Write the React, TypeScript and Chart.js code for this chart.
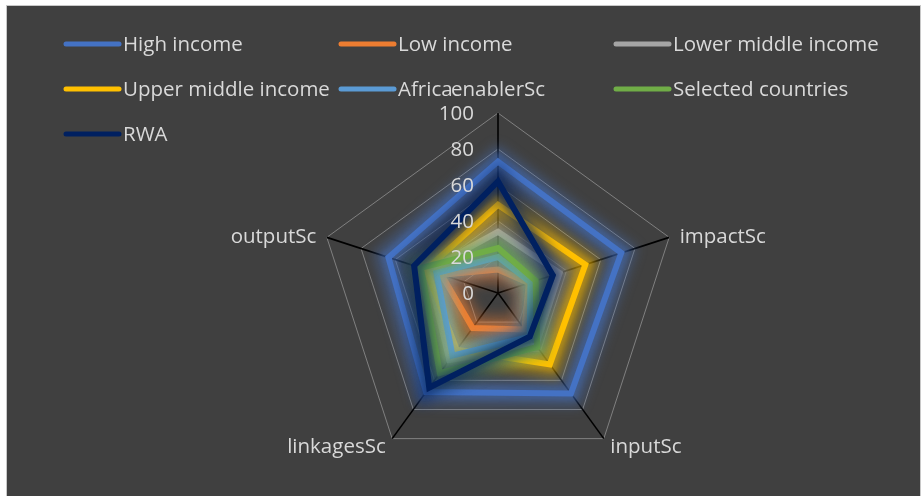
import { useEffect, useRef } from 'react';
import { Chart, registerables } from 'chart.js';

Chart.register(...registerables);

// Axes of the radar, clockwise from the top
const axisLabels = ['enablerSc', 'impactSc', 'inputSc', 'linkagesSc', 'outputSc'];

// Scores per group, in axis order
const highIncome = [73, 72, 69, 68, 64];
const lowIncome = [13, 18, 25, 24, 33];
const lowerMiddleIncome = [34, 36, 36, 46, 41];
const upperMiddleIncome = [49, 51, 49, 39, 42];
const africa = [20, 19, 30, 43, 36];
const selectedCountries = [25, 22, 37, 55, 45];
const rwa = [62, 32, 30, 65, 49];

const seriesNames = [
  'High income',
  'Low income',
  'Lower middle income',
  'Upper middle income',
  'Africa',
  'Selected countries',
  'RWA',
];
const seriesValues = [highIncome, lowIncome, lowerMiddleIncome, upperMiddleIncome, africa, selectedCountries, rwa];
const seriesColors = ['#4472C4', '#ED7D31', '#A5A5A5', '#FFC000', '#5B9BD5', '#70AD47', '#002060'];

// Radial axis range
const axisMin = 0;
const axisMax = 100;
const axisStep = 20;

const FONT = "'Open Sans', sans-serif";
const FONT_SIZE = 20.5;
const TEXT_COLOR = '#d9d9d9';

function hexToRgba(hex: string, a: number) {
  const n = parseInt(hex.slice(1), 16);
  return `rgba(${(n >> 16) & 255}, ${(n >> 8) & 255}, ${n & 255}, ${a})`;
}

// Soft halo under every series line
const glowPlugin = {
  id: 'seriesGlow',
  beforeDatasetDraw(chart: any, args: any) {
    const meta = chart.getDatasetMeta(args.index);
    const pts = meta.data;
    if (!pts || !pts.length) return;
    const color = chart.data.datasets[args.index].borderColor as string;
    const ctx = chart.ctx;
    const trace = () => {
      ctx.beginPath();
      pts.forEach((p: any, i: number) => (i === 0 ? ctx.moveTo(p.x, p.y) : ctx.lineTo(p.x, p.y)));
      ctx.closePath();
    };
    ctx.save();
    ctx.lineJoin = 'miter';
    ctx.filter = 'blur(6px)';
    ctx.strokeStyle = hexToRgba(color, 0.42);
    ctx.lineWidth = 26;
    trace();
    ctx.stroke();
    ctx.filter = 'blur(2px)';
    ctx.strokeStyle = hexToRgba(color, 0.28);
    ctx.lineWidth = 14;
    trace();
    ctx.stroke();
    ctx.restore();
  },
};

// Value labels beside the vertical axis and category labels at the spokes
const labelsPlugin = {
  id: 'radarLabels',
  afterDatasetsDraw(chart: any) {
    const scale = chart.scales.r;
    const ctx = chart.ctx;
    ctx.save();
    ctx.font = `${FONT_SIZE}px ${FONT}`;
    ctx.fillStyle = TEXT_COLOR;

    ctx.textAlign = 'right';
    ctx.textBaseline = 'middle';
    scale.ticks.forEach((t: any) => {
      const y = scale.yCenter - scale.getDistanceFromCenterForValue(t.value);
      ctx.fillText(String(t.value), scale.xCenter - 24, y + 1);
    });

    const labels = chart.data.labels as string[];
    labels.forEach((lbl, i) => {
      const pos = scale.getPointPosition(i, scale.drawingArea + 11);
      const deg = Math.round((scale.getIndexAngle(i) * 180) / Math.PI) % 360;
      let y = pos.y;
      if (deg === 0) {
        ctx.textAlign = 'center';
        y -= 12;
      } else if (deg < 180) {
        ctx.textAlign = 'left';
      } else {
        ctx.textAlign = 'right';
      }
      if (deg > 45 && deg < 90) y += 3;
      if (deg > 270 && deg < 315) y += 3;
      ctx.fillText(lbl, pos.x, y);
    });
    ctx.restore();
  },
};

// Three-column legend across the top
const legendPlugin = {
  id: 'gridLegend',
  afterDraw(chart: any) {
    const ctx = chart.ctx;
    const colX = [64, 339, 614];
    const rowY = 44;
    const rowGap = 45;
    ctx.save();
    ctx.font = `${FONT_SIZE}px ${FONT}`;
    ctx.textAlign = 'left';
    ctx.textBaseline = 'middle';
    chart.data.datasets.forEach((ds: any, i: number) => {
      const x = colX[i % 3];
      const y = rowY + Math.floor(i / 3) * rowGap;
      ctx.strokeStyle = ds.borderColor;
      ctx.lineWidth = 5;
      ctx.lineCap = 'round';
      ctx.beginPath();
      ctx.moveTo(x + 2, y);
      ctx.lineTo(x + 55, y);
      ctx.stroke();
      ctx.fillStyle = TEXT_COLOR;
      ctx.fillText(ds.label, x + 59, y + 1);
    });
    ctx.restore();
  },
};

export default function App() {
  const canvasRef = useRef<HTMLCanvasElement | null>(null);

  useEffect(() => {
    document.body.style.margin = '0';
    const canvas = canvasRef.current;
    if (!canvas) return;
    const n = seriesNames.length;
    const chart = new Chart(canvas, {
      type: 'radar',
      data: {
        labels: axisLabels,
        datasets: seriesNames.map((name, i) => ({
          label: name,
          data: seriesValues[i],
          borderColor: seriesColors[i],
          backgroundColor: 'transparent',
          fill: false,
          borderWidth: 6,
          borderJoinStyle: 'miter',
          pointRadius: 0,
          pointHoverRadius: 0,
          order: n - 1 - i,
        })),
      },
      options: {
        responsive: false,
        maintainAspectRatio: false,
        animation: false,
        layout: { padding: { left: 318, right: 245, top: 113, bottom: 23 } },
        plugins: {
          legend: { display: false },
          tooltip: { enabled: false },
        },
        scales: {
          r: {
            min: axisMin,
            max: axisMax,
            ticks: { stepSize: axisStep, display: false, showLabelBackdrop: false },
            grid: { color: '#808080', lineWidth: 1 },
            angleLines: { color: '#000000', lineWidth: 1.6 },
            pointLabels: { display: false },
          },
        },
      } as any,
      plugins: [glowPlugin, labelsPlugin, legendPlugin],
    });
    return () => chart.destroy();
  }, []);

  return (
    <div style={{ position: 'relative', width: 923, height: 496, background: '#ffffff', overflow: 'hidden' }}>
      <div
        style={{
          position: 'absolute',
          left: 6,
          top: 5,
          width: 915,
          height: 495,
          boxSizing: 'border-box',
          border: '1px solid #c8c8c8',
          background: '#404040',
        }}
      />
      <canvas
        ref={canvasRef}
        width={923}
        height={496}
        style={{ position: 'absolute', left: 0, top: 0, width: 923, height: 496 }}
      />
    </div>
  );
}
